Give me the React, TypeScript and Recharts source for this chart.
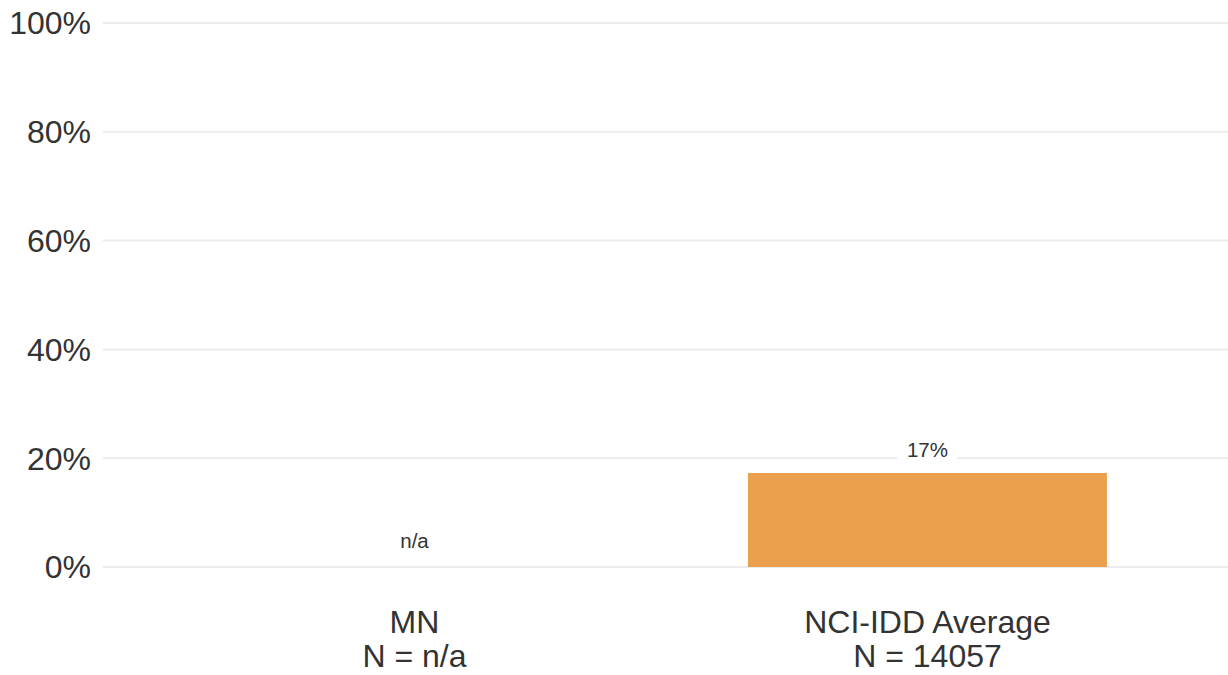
import React from "react";
import { Bar, BarChart, CartesianGrid, ReferenceDot, XAxis, YAxis } from "recharts";

const categories = ["MN", "NCI-IDD Average"];
const sampleSizes = ["n/a", "14057"];
const percentValues: Array<number | null> = [null, 17.3];
const yTicks = [0, 20, 40, 60, 80, 100];

const data = categories.map((name, i) => ({
  name,
  n: sampleSizes[i],
  value: percentValues[i]
}));

const FONT = "'Liberation Sans', Arial, sans-serif";
const TEXT = "#333333";

function CategoryTick({ x, y, payload, index }: any) {
  return (
    <text x={x} y={y} textAnchor="middle" fontFamily={FONT} fontSize={32} fill={TEXT}>
      <tspan x={x} dy={66}>{payload.value}</tspan>
      <tspan x={x} dy={34}>{`N = ${sampleSizes[index]}`}</tspan>
    </text>
  );
}

function ValueText({ cx, top, text, gap = 16 }: { cx: number; top: number; text: string; gap?: number }) {
  return (
    <g>
      <rect x={cx - 30} y={top - gap - 17} width={60} height={24} fill="#ffffff" />
      <text x={cx} y={top - gap} textAnchor="middle" fontFamily={FONT} fontSize={20.5} fill={TEXT}>
        {text}
      </text>
    </g>
  );
}

function BarValueLabel(props: any) {
  const { x, y, width, value } = props;
  if (value == null) return null;
  return <ValueText cx={Number(x) + Number(width) / 2} top={Number(y)} text={`${Math.round(Number(value))}%`} />;
}

// categories without data get an "n/a" marker placed at zero
function MissingDot(props: any) {
  const { cx, cy } = props;
  return <ValueText cx={Number(cx)} top={Number(cy)} text="n/a" gap={19} />;
}

export default function App() {
  return (
    <div style={{ position: "absolute", left: 0, top: 0, background: "#fff" }}>
      <BarChart
        width={1228}
        height={675}
        data={data}
        margin={{ top: 23, right: 0, bottom: 0, left: 0 }}
        barCategoryGap="15%"
      >
        <CartesianGrid vertical={false} stroke="#ebebeb" strokeWidth={2} />
        <XAxis
          dataKey="name"
          axisLine={false}
          tickLine={false}
          tickSize={0}
          tickMargin={0}
          height={108}
          padding={{ left: 55, right: 44 }}
          tick={<CategoryTick />}
          interval={0}
        />
        <YAxis
          domain={[0, 100]}
          ticks={yTicks}
          width={103}
          axisLine={false}
          tickLine={false}
          tickSize={0}
          tickMargin={12}
          tickFormatter={(v) => `${v}%`}
          tick={{ fontSize: 32, fill: TEXT, fontFamily: FONT }}
        />
        <Bar dataKey="value" fill="#eba04e" isAnimationActive={false} label={<BarValueLabel />} />
        {data
          .filter((d) => d.value == null)
          .map((d) => (
            <ReferenceDot key={d.name} x={d.name} y={0} shape={<MissingDot />} ifOverflow="visible" />
          ))}
      </BarChart>
    </div>
  );
}
